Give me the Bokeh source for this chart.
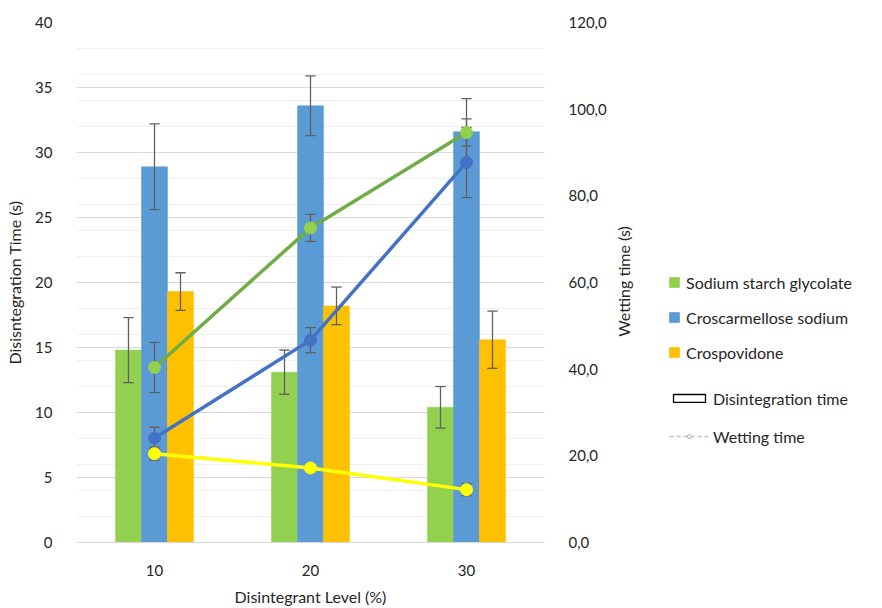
import math
from bokeh.plotting import figure
from bokeh.layouts import row
from bokeh.models import (Range1d, LinearAxis, FixedTicker, CustomJSTickFormatter,
                          Legend, LegendItem, Grid, Label)
from bokeh.embed import file_html
from bokeh.resources import INLINE

# ---------------- data ----------------
levels = [10, 20, 30]
series_names = ["Sodium starch glycolate", "Croscarmellose sodium", "Crospovidone"]

# disintegration time (s), left axis
dt_ssg = [14.8, 13.1, 10.4]
dt_ssg_err = [2.5, 1.7, 1.6]
dt_ccs = [28.9, 33.6, 31.6]
dt_ccs_err = [3.3, 2.3, 2.55]
dt_cp = [19.3, 18.2, 15.6]
dt_cp_err = [1.45, 1.45, 2.2]

# wetting time (s), right axis
wt_ssg = [40.4, 72.6, 94.6]
wt_ssg_err = [5.8, 3.1, 3.15]
wt_ccs = [24.1, 46.7, 87.7]
wt_ccs_err = [2.5, 2.9, 8.1]
wt_cp = [20.5, 17.2, 12.2]
wt_cp_err = [1.5, 0.5, 1.4]

left_ticks = [0, 5, 10, 15, 20, 25, 30, 35, 40]
right_ticks = [0, 20, 40, 60, 80, 100, 120]

bar_colors = ["#92D050", "#5B9BD5", "#FFC000"]
line_colors = ["#70AD47", "#4472C4", "#FFFF00"]
marker_colors = ["#92D050", "#4472C4", "#FFFF00"]
err_color = "#606060"
FONT = "Lato"

bar_w = 1.667
offsets = [-bar_w, 0.0, bar_w]
cap = 0.33

W_MAIN = 612
H = 608
FRAME_BOTTOM = 544
NAN = float("nan")

p = figure(width=W_MAIN, height=H, output_backend="svg", toolbar_location=None,
           x_range=Range1d(5, 35), y_range=Range1d(0, 40),
           min_border_left=76, min_border_right=W_MAIN - 544, min_border_top=22,
           min_border_bottom=H - FRAME_BOTTOM)
p.extra_y_ranges = {"wet": Range1d(0, 120)}
p.outline_line_color = None
p.background_fill_color = "white"
p.grid.visible = False

g_minor = Grid(dimension=1, ticker=FixedTicker(ticks=list(range(0, 41, 2))),
               grid_line_color="#efefef", grid_line_width=1)
g_major = Grid(dimension=1, ticker=FixedTicker(ticks=left_ticks),
               grid_line_color="#d9d9d9", grid_line_width=1)
p.add_layout(g_minor)
p.add_layout(g_major)

# axes
p.xaxis.ticker = FixedTicker(ticks=levels)
p.xaxis.axis_label = "Disintegrant Level (%)"
p.xaxis.axis_line_color = "#d9d9d9"
p.xaxis.major_tick_line_color = None
p.xaxis.minor_tick_line_color = None
p.xaxis.major_label_standoff = 16
p.xaxis.axis_label_standoff = 8

p.yaxis.ticker = FixedTicker(ticks=left_ticks)
p.yaxis.axis_label = "Disisntegration Time (s)"
p.yaxis.axis_line_color = None
p.yaxis.major_tick_line_color = None
p.yaxis.minor_tick_line_color = None
p.yaxis.major_label_standoff = 18
p.yaxis.axis_label_standoff = 8

raxis = LinearAxis(y_range_name="wet", ticker=FixedTicker(ticks=right_ticks),
                   formatter=CustomJSTickFormatter(code="return tick.toFixed(1).replace('.', ',');"))
raxis.axis_line_color = None
raxis.major_tick_line_color = None
raxis.minor_tick_line_color = None
raxis.major_label_standoff = 18
p.add_layout(raxis, "right")

for ax in [p.xaxis[0], p.yaxis[0], raxis]:
    ax.major_label_text_font = FONT
    ax.major_label_text_font_size = "15px"
    ax.major_label_text_color = "#262626"
    ax.axis_label_text_font = FONT
    ax.axis_label_text_font_size = "16px"
    ax.axis_label_text_font_style = "normal"
    ax.axis_label_text_color = "#262626"

# bars
dts = [dt_ssg, dt_ccs, dt_cp]
dt_errs = [dt_ssg_err, dt_ccs_err, dt_cp_err]
for i in range(3):
    xs = [l + offsets[i] for l in levels]
    p.vbar(x=xs, top=dts[i], width=bar_w, bottom=0, fill_color=bar_colors[i],
           line_color=bar_colors[i], line_width=0.5)


def err_bars(xs, ys, es, y_range_name="default"):
    lo = [y - e for y, e in zip(ys, es)]
    hi = [y + e for y, e in zip(ys, es)]
    p.segment(x0=xs, x1=xs, y0=lo, y1=hi, line_color=err_color, line_width=1.3,
              y_range_name=y_range_name)
    p.segment(x0=[x - cap for x in xs], x1=[x + cap for x in xs], y0=hi, y1=hi,
              line_color=err_color, line_width=1.3, y_range_name=y_range_name)
    p.segment(x0=[x - cap for x in xs], x1=[x + cap for x in xs], y0=lo, y1=lo,
              line_color=err_color, line_width=1.3, y_range_name=y_range_name)


for i in range(3):
    xs = [l + offsets[i] for l in levels]
    err_bars(xs, dts[i], dt_errs[i])

# wetting lines
wts = [wt_ssg, wt_ccs, wt_cp]
wt_errs = [wt_ssg_err, wt_ccs_err, wt_cp_err]
for i in [2, 1, 0]:
    p.line(x=levels, y=wts[i], line_color=line_colors[i], line_width=3.5, y_range_name="wet")
for i in range(3):
    err_bars(levels, wts[i], wt_errs[i], y_range_name="wet")
for i in [2, 1, 0]:
    p.scatter(x=levels, y=wts[i], size=12, fill_color=marker_colors[i],
              line_color=marker_colors[i], y_range_name="wet")

# ---------------- right-axis title + legend panel ----------------
# (its frame is aligned with the main frame by the row layout: y is measured from y=544)
lf = figure(width=882 - W_MAIN, height=H, output_backend="svg", toolbar_location=None,
            x_range=Range1d(0, 1), y_range=Range1d(0, 1),
            x_axis_location=None, y_axis_location=None,
            min_border_left=0, min_border_right=0, min_border_top=0, min_border_bottom=0)
lf.outline_line_color = None
lf.grid.visible = False

lf.add_layout(Label(x=623 - W_MAIN, y=FRAME_BOTTOM - 283, x_units="screen", y_units="screen",
                    text="Wetting time (s)", angle=math.pi / 2, angle_units="rad",
                    text_align="center", text_baseline="middle",
                    text_font=FONT, text_font_size="16px", text_color="#262626"))

DX = 668 - W_MAIN
sw = [lf.vbar(x=[NAN], top=[NAN], width=1, fill_color=bar_colors[i], line_color=bar_colors[i])
      for i in range(3)]
leg1 = Legend(items=[LegendItem(label=series_names[i], renderers=[sw[i]]) for i in range(3)],
              location=(DX, FRAME_BOTTOM - 364), orientation="vertical",
              glyph_width=12, glyph_height=12, label_standoff=6, spacing=15,
              padding=0, margin=0, border_line_color=None, background_fill_alpha=0,
              label_text_font=FONT, label_text_font_size="16px",
              label_text_color="#262626", label_height=20)
lf.add_layout(leg1)

d_rect = lf.vbar(x=[NAN], top=[NAN], width=1, fill_color="white", line_color="black",
                 line_width=1.3)
d_line = lf.line(x=[NAN], y=[NAN], line_color="#c0c0c0", line_dash="4 3", line_width=1.5)
d_circ = lf.scatter(x=[NAN], y=[NAN], marker="circle", size=9, fill_color="white",
                    line_color="#bdbdbd", line_width=1.2)
leg2 = Legend(items=[LegendItem(label="Disintegration time", renderers=[d_rect]),
                     LegendItem(label="Wetting time", renderers=[d_line, d_circ])],
              location=(DX + 1, FRAME_BOTTOM - 448), orientation="vertical",
              glyph_width=40, glyph_height=10, label_standoff=4, spacing=18,
              padding=0, margin=0, border_line_color=None, background_fill_alpha=0,
              label_text_font=FONT, label_text_font_size="16px",
              label_text_color="#262626", label_height=20)
lf.add_layout(leg2)

layout = row(p, lf, spacing=0)
open("out.html", "w").write(file_html(layout, INLINE))
